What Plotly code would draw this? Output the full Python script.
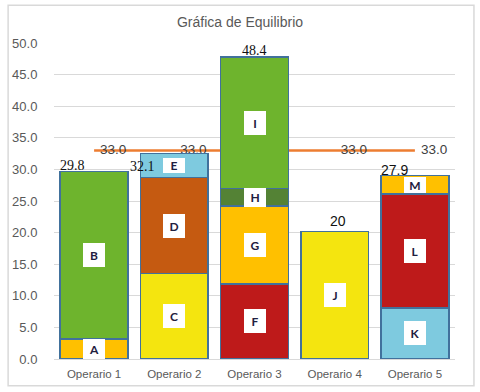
import plotly.graph_objects as go

# ---------------- data ----------------
operarios = ["Operario 1", "Operario 2", "Operario 3", "Operario 4", "Operario 5"]

nivel1_letras = ["A", "C", "F", "J", "K"]
nivel1_valores = [3.2, 13.5, 11.9, 20.2, 8.1]
nivel2_letras = ["B", "D", "G", "", "L"]
nivel2_valores = [26.5, 15.2, 12.3, None, 18.0]
nivel3_letras = ["", "E", "H", "", "M"]
nivel3_valores = [None, 3.8, 2.8, None, 2.9]
nivel4_letras = ["", "", "I", "", ""]
nivel4_valores = [None, None, 20.8, None, None]

etiquetas_totales = ["29.8", "32.1", "48.4", "20", "27.9"]
takt = [33.0, 33.0, 33.0, 33.0, 33.0]

# ---------------- styles ----------------
colores = {
    "A": "#FFC000", "B": "#6EB42D", "C": "#F4E50F", "D": "#C55A11",
    "E": "#7ECADF", "F": "#BE1A1A", "G": "#FFC000", "H": "#548235",
    "I": "#6EB42D", "J": "#F4E50F", "K": "#7ECADF", "L": "#BE1A1A",
    "M": "#FFC000", "": "rgba(0,0,0,0)",
}
alto_caja = {"A": 20, "E": 15, "H": 19, "M": 16}
total_xshift = [-22, -32, 0, 3, -20]
total_yshift = [-4, -22, -3, 0, -4]
total_fuente = ["Liberation Serif", "Liberation Serif", "Liberation Serif",
                "Liberation Sans", "Liberation Sans"]

niveles = [
    (nivel1_letras, nivel1_valores),
    (nivel2_letras, nivel2_valores),
    (nivel3_letras, nivel3_valores),
    (nivel4_letras, nivel4_valores),
]

fig = go.Figure()

# takt line (base subplot, drawn beneath bars)
fig.add_trace(go.Scatter(
    x=operarios, y=takt, mode="lines+markers+text",
    text=[f"{v:.1f}" for v in takt], textposition="middle right",
    textfont=dict(family="Liberation Sans", size=13.5, color="#404040"),
    line=dict(color="#ED7D31", width=2.5),
    marker=dict(size=8, color="rgba(0,0,0,0)"),
    xaxis="x", yaxis="y", showlegend=False, hoverinfo="skip",
))

annotations = []
bases = [0.0] * len(operarios)
for letras, valores in niveles:
    fig.add_trace(go.Bar(
        x=operarios, y=valores,
        marker=dict(color=[colores[l] for l in letras],
                    line=dict(color="#41719C", width=1.5)),
        xaxis="x2", yaxis="y2", showlegend=False, hoverinfo="skip",
    ))
    for i, (l, v) in enumerate(zip(letras, valores)):
        if l and v:
            annotations.append(dict(
                x=operarios[i], y=bases[i] + v / 2, xref="x2", yref="y2",
                text=f"<b>{l}</b>", showarrow=False,
                font=dict(family="Lato", size=12, color="#1F2040"),
                bgcolor="white", width=22, height=alto_caja.get(l, 24),
                borderpad=0, borderwidth=0,
            ))
        if v:
            bases[i] += v

for i, t in enumerate(etiquetas_totales):
    annotations.append(dict(
        x=operarios[i], y=bases[i], xref="x2", yref="y2",
        text=t, showarrow=False, yanchor="bottom",
        xshift=total_xshift[i], yshift=total_yshift[i],
        font=dict(family=total_fuente[i], size=14, color="#111111"),
    ))

fig.update_layout(
    width=480, height=392,
    margin=dict(l=53, r=25, t=43, b=31),
    paper_bgcolor="white", plot_bgcolor="white",
    barmode="stack", bargap=0.154,
    title=dict(text="Gráfica de Equilibrio", x=0.5, xanchor="center",
               y=1 - 22 / 392, yanchor="middle", yref="container",
               font=dict(family="Liberation Sans", size=14, color="#595959")),
    xaxis=dict(type="category", range=[-0.5, 4.5], showgrid=False,
               showline=True, linecolor="#D9D9D9", linewidth=1,
               tickfont=dict(family="Liberation Sans", size=11.5, color="#595959"),
               ticks="outside", ticklen=4, tickcolor="rgba(0,0,0,0)"),
    yaxis=dict(range=[0, 50], dtick=5, tickformat=".1f", showgrid=True,
               gridcolor="#D9D9D9", gridwidth=1, zeroline=True,
               zerolinecolor="#D9D9D9", zerolinewidth=1, showline=False,
               tickfont=dict(family="Liberation Sans", size=13, color="#595959"),
               ticks="outside", ticklen=13, tickcolor="rgba(0,0,0,0)"),
    xaxis2=dict(type="category", range=[-0.5, 4.5], overlaying="x",
                anchor="y2", visible=False),
    yaxis2=dict(range=[0, 50], overlaying="y", anchor="x2", visible=False),
    annotations=annotations,
    shapes=[dict(type="rect", xref="paper", yref="paper",
                 x0=(7 - 53) / 402, x1=(474 - 53) / 402,
                 y0=(361 - 388) / 318, y1=(361 - 5) / 318,
                 line=dict(color="#D9D9D9", width=1.5), fillcolor="rgba(0,0,0,0)",
                 layer="below")],
)

fig.write_html("out.html", config={"displayModeBar": False},
               post_script="document.body.style.margin='0';document.body.style.overflow='hidden';")
